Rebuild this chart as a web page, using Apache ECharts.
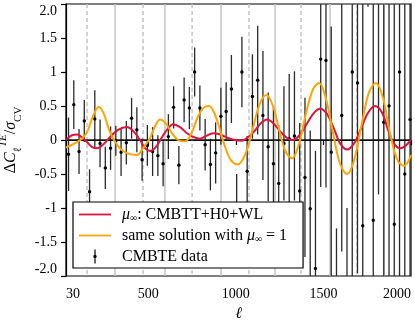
<!DOCTYPE html>
<html>
<head>
<meta charset="utf-8">
<script src="https://cdn.jsdelivr.net/npm/echarts@6/dist/echarts.min.js"></script>
<style>
  html, body { margin: 0; padding: 0; background: #fff; }
  #chart { width: 415px; height: 325px; }
</style>
</head>
<body>
<div id="chart"></div>
<script>
// binned TE data (bin centres, residual / sigma_CV, error)
const binEll = [
  44.5, 74.5, 104.5, 134.5, 164.5, 194.5, 224.5, 254.5, 284.5, 314.5,
  344.5, 374.5, 404.5, 434.5, 464.5, 494.5, 524.5, 554.5, 584.5, 614.5,
  644.5, 674.5, 704.5, 734.5, 764.5, 794.5, 824.5, 854.5, 884.5, 914.5,
  944.5, 974.5, 1004.5, 1034.5, 1064.5, 1094.5, 1124.5, 1154.5, 1184.5, 1214.5,
  1244.5, 1274.5, 1304.5, 1334.5, 1364.5, 1394.5, 1424.5, 1454.5, 1484.5, 1514.5,
  1544.5, 1574.5, 1604.5, 1634.5, 1664.5, 1694.5, 1724.5, 1754.5, 1784.5, 1814.5,
  1844.5, 1874.5, 1904.5, 1934.5, 1964.5, 1994.5
];
const teValues = [
  -0.21, 0.52, -0.17, 0.28, -0.76, 0.31, -0.05, -0.41, -0.12, -0.01,
  -0.18, -0.04, 0.32, 0.15, -0.29, -0.08, -0.17, -0.23, -0.35, 0.05,
  0.48, -0.37, 0.59, 0.47, 1.0, 0.47, -0.07, -0.36, -0.19, 0.35,
  0.42, 0.75, -1.0, 1.0, -0.46, 0.64, 0.88, 0.36, -0.1, -0.35,
  -0.64, -0.05, 0.02, 0.06, -0.75, -0.55, -1.01, -1.89, 1.19, 1.17,
  -0.18, -3.2, 0.36, -3.0, 1.0, 0.84, -1.26, 4.0, -1.18, 2.7,
  0.26, 0.5, -1.24, 1.0, -0.5, 0.3
];
const teErrors = [
  0.54, 0.36, 0.33, 0.31, 0.33, 0.42, 0.35, 0.31, 0.32, 0.22,
  0.35, 0.32, 0.3, 0.33, 0.31, 0.3, 0.36, 0.3, 0.33, 0.33,
  0.31, 0.28, 0.33, 0.31, 0.36, 0.33, 0.38, 0.38, 0.45, 0.42,
  0.43, 0.5, 0.5, 0.52, 0.52, 0.62, 0.8, 0.95, 0.8, 0.85,
  0.86, 0.84, 0.95, 0.95, 1.0, 1.17, 1.15, 1.73, 1.88, 1.87,
  1.85, 1.9, 2.0, 2.0, 3.5, 2.8, 3.5, 2.04, 3.4, 3.5,
  3.3, 3.8, 3.8, 4.0, 4.2, 4.5
];

// model curves
const redEll = [30, 64, 93, 121, 150, 178, 207, 241, 281, 327, 378, 418, 453, 481, 510, 544, 578, 613, 641, 681,
  721, 761, 795, 830, 870, 910, 955, 995, 1035, 1069, 1109, 1144, 1178, 1212, 1252, 1292, 1326, 1366, 1406, 1446,
  1481, 1521, 1561, 1595, 1635, 1675, 1715, 1755, 1795, 1835, 1869, 1903, 1937, 1966, 2000];
const redVal = [0.0, 0.07, 0.08, 0.04, -0.03, -0.1, -0.12, -0.07, 0.04, 0.15, 0.19, 0.12, 0.0, -0.12, -0.16, -0.1, 0.04, 0.17, 0.23, 0.19,
  0.1, 0.04, 0.02, 0.06, 0.1, 0.08, 0.03, 0.0, -0.01, 0.04, 0.14, 0.25, 0.3, 0.25, 0.13, 0.03, 0.0, 0.08, 0.24, 0.4,
  0.46, 0.38, 0.16, -0.05, -0.14, -0.05, 0.17, 0.4, 0.5, 0.4, 0.15, -0.05, -0.12, -0.09, 0.0];
const orangeEll = [30, 64, 99, 127, 156, 184, 218, 247, 276, 304, 338, 384, 435, 470, 510, 538, 567, 601, 635, 670,
  710, 750, 784, 818, 847, 887, 932, 972, 1012, 1052, 1092, 1132, 1172, 1212, 1252, 1286, 1321, 1361, 1401, 1441,
  1475, 1515, 1555, 1595, 1635, 1675, 1720, 1760, 1800, 1840, 1880, 1920, 1960, 1983, 2000];
const orangeVal = [-0.11, -0.07, -0.02, 0.03, 0.15, 0.35, 0.49, 0.38, 0.15, 0.0, -0.12, -0.2, -0.22, -0.12, 0.03, 0.2, 0.3, 0.24, 0.1, 0.0,
  -0.02, 0.12, 0.35, 0.48, 0.5, 0.33, -0.05, -0.3, -0.36, -0.22, 0.12, 0.5, 0.66, 0.5, 0.1, -0.18, -0.27, -0.05, 0.4, 0.75,
  0.84, 0.6, 0.1, -0.35, -0.5, -0.3, 0.25, 0.7, 0.84, 0.62, 0.1, -0.28, -0.38, -0.32, -0.22];

// reference multipoles (grey guide lines)
const solidLines = [310, 595, 915, 1224, 1538, 1846];
const dashedLines = [150, 470, 750, 1075, 1372, 1692];

const xTicks = [30, 500, 1000, 1500, 2000];
const yTickText = { "2": "2.0", "1.5": "1.5", "1": "1", "0.5": "0.5", "0": "0",
  "-0.5": "-0.5", "-1": "-1", "-1.5": "-1.5", "-2": "-2.0" };

const Y_MIN = -2, Y_MAX = 2;
const SERIF = "'Liberation Serif', 'DejaVu Serif', serif";

const chart = echarts.init(document.getElementById("chart"), null, { renderer: "canvas" });

const dataRows = binEll.map((l, i) => [l, teValues[i], teErrors[i]]);
const guideRows = solidLines.map((l) => [l, 0]).concat(dashedLines.map((l) => [l, 1]));

function renderGuide(params, api) {
  const ell = api.value(0);
  const top = api.coord([ell, Y_MAX]);
  const bot = api.coord([ell, Y_MIN]);
  const dashed = api.value(1) === 1;
  return {
    type: "line",
    shape: { x1: top[0], y1: top[1], x2: bot[0], y2: bot[1] },
    style: { stroke: "#c4c4c4", lineWidth: 1.5, lineDash: dashed ? [4, 3] : null }
  };
}

function renderZero(params, api) {
  const a = api.coord([30, 0]);
  const b = api.coord([2000, 0]);
  return {
    type: "line",
    shape: { x1: a[0], y1: a[1], x2: b[0], y2: b[1] },
    style: { stroke: "#111", lineWidth: 1.6 }
  };
}

function renderErrorBar(params, api) {
  const ell = api.value(0), val = api.value(1), err = api.value(2);
  const lo = Math.max(val - err, Y_MIN), hi = Math.min(val + err, Y_MAX);
  const children = [];
  if (hi > lo) {
    const a = api.coord([ell, hi]), b = api.coord([ell, lo]);
    children.push({
      type: "line",
      shape: { x1: a[0], y1: a[1], x2: b[0], y2: b[1] },
      style: { stroke: "#2a2a2a", lineWidth: 1.3 }
    });
  }
  if (val >= Y_MIN && val <= Y_MAX) {
    const c = api.coord([ell, val]);
    children.push({ type: "circle", shape: { cx: c[0], cy: c[1], r: 1.7 }, style: { fill: "#000" } });
  }
  return { type: "group", children };
}

const legendText = {
  red: "{i|μ}{sub|∞}: CMBTT+H0+WL",
  orange: "same solution with {i|μ}{sub|∞} = 1",
  data: "CMBTE data"
};
const lineIcon = "path://M0,0 M32,14 M0,6.1 L32,6.1 L32,7.9 L0,7.9 Z";
const barIcon = "path://M0,0 M32,14 M15.4,0 L16.6,0 L16.6,14 L15.4,14 Z M16,5.3 A1.7,1.7 0 1,1 16,8.7 A1.7,1.7 0 1,1 16,5.3 Z";

const option = {
  animation: false,
  backgroundColor: "#fff",
  grid: {
    left: 66, right: 4, top: 4, bottom: 49,
    outerBoundsMode: "none",
    containLabel: false,
    show: true, borderColor: "#000", borderWidth: 1.2, backgroundColor: "transparent"
  },
  legend: {
    orient: "vertical",
    left: 73,
    top: 202,
    padding: [4, 16, 3, 6],
    itemGap: 4,
    itemWidth: 32,
    itemHeight: 14,
    backgroundColor: "#fff",
    borderColor: "#000",
    borderWidth: 1.2,
    borderRadius: 0,
    selectedMode: false,
    data: [
      { name: "red", icon: lineIcon },
      { name: "orange", icon: lineIcon },
      { name: "data", icon: barIcon }
    ],
    formatter: (name) => legendText[name],
    textStyle: {
      fontFamily: SERIF, fontSize: 16, color: "#000", padding: [0, 0, 0, 6], lineHeight: 17,
      rich: {
        i: { fontFamily: SERIF, fontSize: 16, fontStyle: "italic", lineHeight: 17 },
        sub: { fontFamily: SERIF, fontSize: 10, verticalAlign: "bottom", lineHeight: 10 }
      }
    }
  },
  xAxis: {
    type: "value",
    min: 30,
    max: 2000,
    name: "ℓ",
    nameLocation: "middle",
    nameGap: 30,
    nameTextStyle: { fontFamily: SERIF, fontSize: 16, fontStyle: "italic", color: "#000" },
    axisLine: { show: true, lineStyle: { color: "#000", width: 1.2 } },
    axisTick: { show: true, customValues: xTicks, length: 5, lineStyle: { color: "#000", width: 1.2 } },
    axisLabel: {
      customValues: xTicks,
      formatter: (v) => String(v),
      alignMinLabel: "left",
      alignMaxLabel: "right",
      margin: 11,
      fontFamily: SERIF,
      fontSize: 14,
      color: "#000"
    },
    splitLine: { show: false }
  },
  yAxis: {
    type: "value",
    min: Y_MIN,
    max: Y_MAX,
    interval: 0.5,
    name: "{d|Δ}{c|C}{sub|ℓ}{sup|TE}{d|/}{s|σ}{sub|CV}",
    nameLocation: "middle",
    nameRotate: 90,
    nameGap: 38,
    nameTextStyle: {
      fontFamily: SERIF, fontSize: 16, color: "#000", lineHeight: 26,
      rich: {
        d: { fontFamily: SERIF, fontSize: 16, lineHeight: 26 },
        c: { fontFamily: SERIF, fontSize: 16, fontStyle: "italic", lineHeight: 26 },
        s: { fontFamily: SERIF, fontSize: 16, fontStyle: "italic", lineHeight: 26 },
        sub: { fontFamily: SERIF, fontSize: 11, verticalAlign: "bottom", lineHeight: 12 },
        sup: { fontFamily: SERIF, fontSize: 11, fontStyle: "italic", verticalAlign: "top", lineHeight: 12 }
      }
    },
    axisLine: { show: true, lineStyle: { color: "#000", width: 1.2 } },
    axisTick: { show: true, length: 5, lineStyle: { color: "#000", width: 1.2 } },
    axisLabel: {
      formatter: (v) => yTickText[String(v)] ?? String(v),
      verticalAlignMaxLabel: "top",
      verticalAlignMinLabel: "bottom",
      margin: 9,
      fontFamily: SERIF,
      fontSize: 14,
      color: "#000"
    },
    splitLine: { show: false }
  },
  series: [
    {
      name: "guides",
      type: "custom",
      renderItem: renderGuide,
      data: guideRows,
      silent: true,
      z: 1
    },
    {
      name: "data",
      type: "custom",
      renderItem: renderErrorBar,
      data: dataRows,
      itemStyle: { color: "#000" },
      silent: true,
      z: 2
    },
    {
      name: "zero",
      type: "custom",
      renderItem: renderZero,
      data: [[0]],
      silent: true,
      z: 3
    },
    {
      name: "red",
      type: "line",
      data: redEll.map((l, i) => [l, redVal[i]]),
      smooth: 0.35,
      showSymbol: false,
      symbol: "none",
      color: "#dc143c",
      lineStyle: { color: "#dc143c", width: 2 },
      silent: true,
      z: 4
    },
    {
      name: "orange",
      type: "line",
      data: orangeEll.map((l, i) => [l, orangeVal[i]]),
      smooth: 0.35,
      showSymbol: false,
      symbol: "none",
      color: "#ffa500",
      lineStyle: { color: "#ffa500", width: 2 },
      silent: true,
      z: 5
    }
  ]
};

chart.setOption(option);
</script>
</body>
</html>
